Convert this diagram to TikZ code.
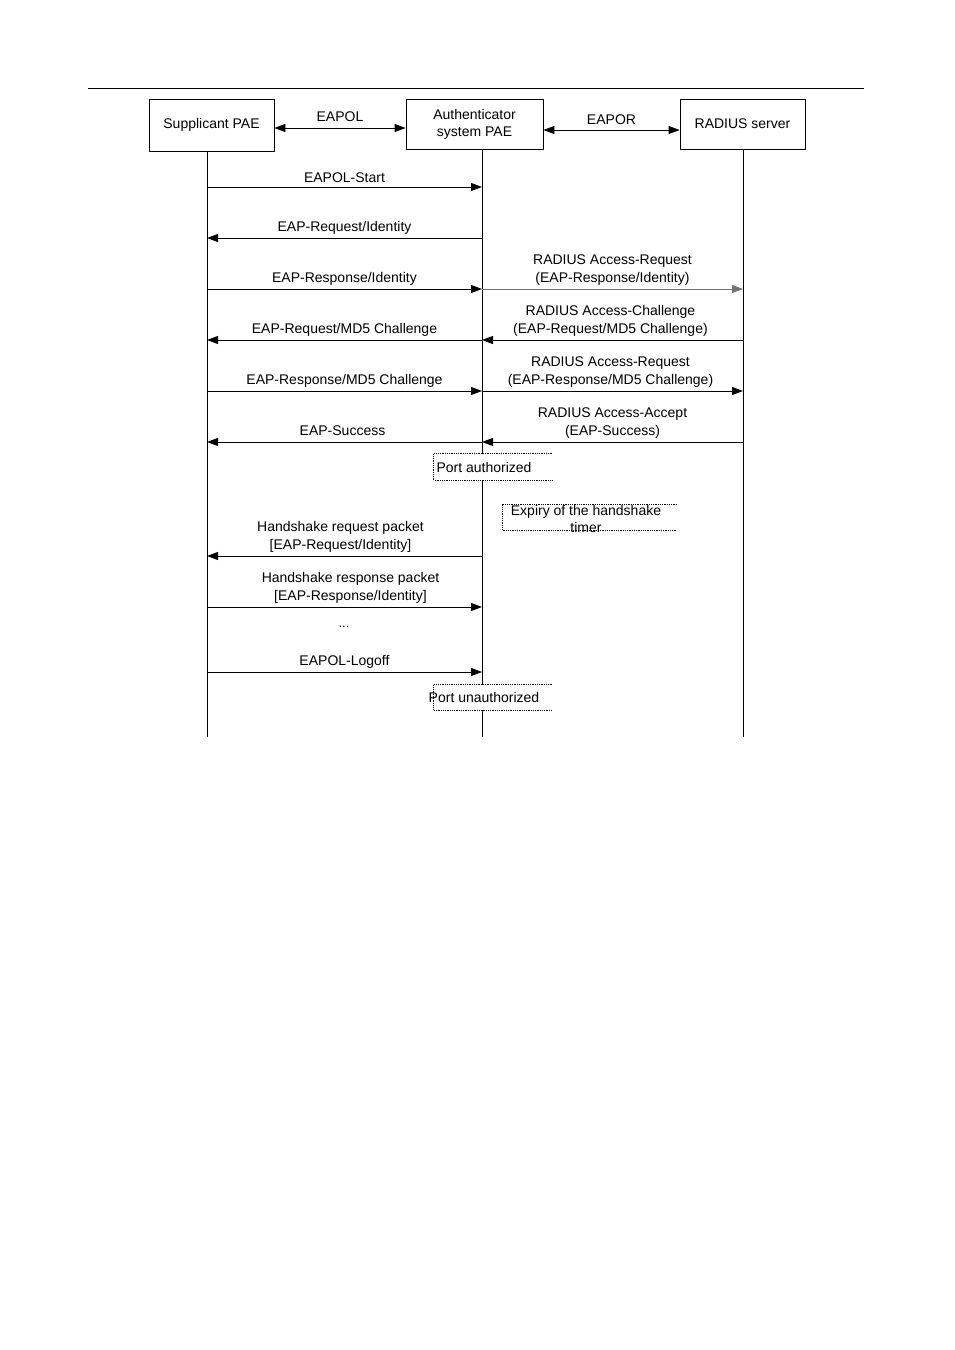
\documentclass[tikz,border=0pt]{standalone}
\usepackage{fontspec}
\setmainfont{Liberation Sans}
\usetikzlibrary{positioning, arrows.meta}

\begin{document}
\begin{tikzpicture}[
    x=1pt, y=-1pt,
    entity/.style={draw, line width=0.8pt, font=\fontsize{14}{17}\selectfont,
                   align=center, inner sep=0pt},
    lifeline/.style={line width=0.8pt},
    link/.style={{Triangle[length=11pt,width=8pt]}-{Triangle[length=11pt,width=8pt]}, line width=0.8pt},
    msg/.style={-{Triangle[length=11pt,width=8pt]}, line width=0.8pt},
    lbl/.style={above, inner sep=3.5pt, font=\fontsize{14}{17.5}\selectfont, align=center},
    state/.style={fill=white, inner sep=0pt, minimum width=118pt, minimum height=26pt},
    stateedge/.style={densely dotted, line width=0.8pt},
    statetext/.style={font=\fontsize{14}{17}\selectfont, align=center, inner sep=0pt}
]
\useasboundingbox (0,0) rectangle (954,1350);

% page rule
\draw[line width=0.8pt] (88,88) -- (864,88);

% Entities
\node[entity, minimum width=125pt, minimum height=52pt] (sup) at (211.5,125) {Supplicant PAE};
\node[entity, minimum width=137pt, minimum height=50pt] (auth) at (474.5,124) {Authenticator\\system PAE};
\node[entity, minimum width=125pt, minimum height=50pt] (rad) at (742.5,124) {RADIUS server};

\draw[link] ([yshift=-3pt]sup.east) -- node[lbl, yshift=2pt] (eapol) {EAPOL} ([yshift=-4pt]auth.west);
\draw[link] ([yshift=-6pt]auth.east) -- node[lbl, yshift=1pt] (eapor) {EAPOR} ([yshift=-6pt]rad.west);

% Lifelines
\coordinate (sEnd) at (207,737);
\coordinate (aEnd) at (482,737);
\coordinate (rEnd) at (743,737);
\draw[lifeline] (sup.south -| sEnd) -- (sEnd);
\draw[lifeline] (auth.south -| aEnd) -- (aEnd);
\draw[lifeline] (rad.south -| rEnd) -- (rEnd);

% Message rows
\foreach \n/\y in {1/187, 2/238, 3/289, 4/340, 5/391, 6/442, 7/556, 8/607, 9/672} {
    \coordinate (s\n) at (207,\y);
    \coordinate (a\n) at (482,\y);
    \coordinate (r\n) at (743,\y);
}

% Authentication
\draw[msg] (s1) -- node[lbl] (start) {EAPOL-Start} (a1);
\draw[msg] (a2) -- node[lbl] (reqid) {EAP-Request/Identity} (s2);
\draw[msg] (s3) -- node[lbl] (respid) {EAP-Response/Identity} (a3);
\draw[msg, draw=black!55, fill=black!55] (a3) -- node[lbl, text=black] (radreq) {RADIUS Access-Request\\(EAP-Response/Identity)} (r3);
\draw[msg] (a4) -- node[lbl] (md5req) {EAP-Request/MD5 Challenge} (s4);
\draw[msg] (r4) -- node[lbl, xshift=-2pt] (radchal) {RADIUS Access-Challenge\\(EAP-Request/MD5 Challenge)} (a4);
\draw[msg] (s5) -- node[lbl] (md5resp) {EAP-Response/MD5 Challenge} (a5);
\draw[msg] (a5) -- node[lbl, xshift=-2pt] (radreq2) {RADIUS Access-Request\\(EAP-Response/MD5 Challenge)} (r5);
\draw[msg] (r6) -- node[lbl] (radacc) {RADIUS Access-Accept\\(EAP-Success)} (a6);
\draw[msg] (a6) -- node[lbl, xshift=-2pt, yshift=2pt] (success) {EAP-Success} (s6);

% Port authorized
\node[state] (authbox) at (493,467) {};
\draw[stateedge] (authbox.north east) -- (authbox.north west) -- (authbox.south west) -- (authbox.south east);
\node[statetext] (authtxt) at (484,467) {Port authorized};

% Handshake timer
\coordinate (tNE) at (677,504);
\coordinate (tNW) at (502,504);
\coordinate (tSW) at (502,530);
\coordinate (tSE) at (677,530);
\draw[stateedge] (tNE) -- (tNW) -- (tSW) -- (tSE);
\node[statetext] (timer) at (586,518.5) {Expiry of the handshake\\timer};

% Handshake
\draw[msg] (a7) -- node[lbl, xshift=-4pt] (hsreq) {Handshake request packet\\{[EAP-Request/Identity]}} (s7);
\draw[msg] (s8) -- node[lbl, xshift=6pt] (hsresp) {Handshake response packet\\{[EAP-Response/Identity]}} (a8);
\node[font=\fontsize{13}{15}\selectfont, anchor=base, inner sep=0pt] (dots) at (344,627) {...};
\draw[msg] (s9) -- node[lbl] (logoff) {EAPOL-Logoff} (a9);

% Port unauthorized
\node[state, minimum height=25pt] (unauthbox) at (493,697.5) {};
\draw[stateedge] (unauthbox.north east) -- (unauthbox.north west) -- (unauthbox.south west) -- (unauthbox.south east);
\node[statetext] (unauthtxt) at (484,697) {Port unauthorized};

\end{tikzpicture}
\end{document}
